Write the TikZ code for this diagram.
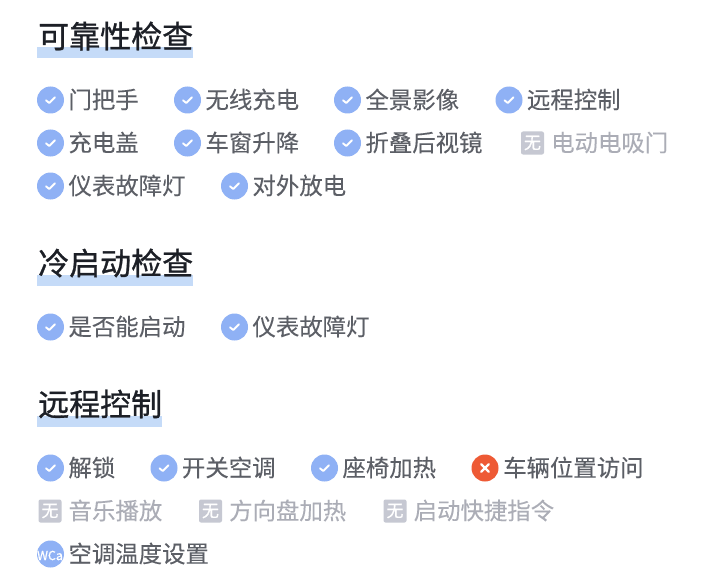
\documentclass[tikz,border=0pt]{standalone}
\usepackage{fontspec}
\setmainfont{Noto Sans CJK SC}
\newfontfamily\headfont[FakeBold=1]{Noto Sans CJK SC}
\newfontfamily\itemfont[FakeBold=0.15]{Noto Sans CJK SC}
\newfontfamily\markfont[FakeBold=0.8]{Noto Sans CJK SC}
\definecolor{ckblue}{HTML}{8FB1F5}
\definecolor{hlblue}{HTML}{C5DBF8}
\definecolor{itemgray}{HTML}{5C5F66}
\definecolor{offgray}{HTML}{ABADB6}
\definecolor{offbox}{HTML}{C6C8D2}
\definecolor{xred}{HTML}{EE5A35}
\definecolor{headink}{HTML}{1C1F26}
\tikzset{
  x=1pt,y=-1pt,
  headtext/.style={anchor=west,inner sep=0pt,font=\headfont\fontsize{31}{31}\selectfont,text=headink},
  hlbar/.style={fill=hlblue,draw=none},
  itemtext/.style={anchor=west,inner sep=0pt,font=\itemfont\fontsize{23.4}{23.4}\selectfont,text=itemgray},
  offtext/.style={itemtext,text=offgray},
  ckdot/.style={circle,fill=ckblue,draw=none,minimum size=27pt,inner sep=0pt},
  xdot/.style={circle,fill=xred,draw=none,minimum size=27pt,inner sep=0pt},
  offsq/.style={rectangle,rounded corners=2pt,fill=offbox,draw=none,minimum size=23pt,inner sep=0pt,text=white,font=\markfont\fontsize{17}{17}\selectfont},
  tick/.style={draw=white,line width=1.9pt,line cap=round,line join=round},
  marktext/.style={inner sep=0pt,text=white,font=\markfont\fontsize{12.5}{12.5}\selectfont},
}
\newcommand{\okitem}[4]{% x, y, name, text
  \node[ckdot] (#3i) at (#1,#2) {};
  \draw[tick] ([shift={(-4.5,0.3)}]#3i.center) -- ([shift={(-1.2,3)}]#3i.center) -- ([shift={(4.5,-2.7)}]#3i.center);
  \node[itemtext] (#3t) at (#1+17.8,#2-0.5) {#4};
}
\newcommand{\offitem}[4]{%
  \node[offsq] (#3i) at (#1,#2) {无};
  \node[offtext] (#3t) at (#1+18.5,#2-0.5) {#4};
}
\begin{document}
\begin{tikzpicture}
\useasboundingbox (0,0) rectangle (717,583);
\fill[white] (0,0) rectangle (717,583);
% section 1
\fill[hlbar] (37,47) rectangle (193,58);
\node[headtext] (h1) at (38,36) {可靠性检查};
\okitem{50.5}{100}{a1}{门把手}
\okitem{187.5}{100}{a2}{无线充电}
\okitem{347.5}{100}{a3}{全景影像}
\okitem{509}{100}{a4}{远程控制}
\okitem{50.5}{143}{b1}{充电盖}
\okitem{187.5}{143}{b2}{车窗升降}
\okitem{347.5}{143}{b3}{折叠后视镜}
\offitem{532.5}{143}{b4}{电动电吸门}
\okitem{50.5}{186}{c1}{仪表故障灯}
\okitem{234.5}{186}{c2}{对外放电}
% section 2
\fill[hlbar] (37,275) rectangle (193,286);
\node[headtext] (h2) at (38,263) {冷启动检查};
\okitem{50.5}{327}{d1}{是否能启动}
\okitem{234.5}{327}{d2}{仪表故障灯}
% section 3
\fill[hlbar] (37,416) rectangle (162,427);
\node[headtext] (h3) at (38,404) {远程控制};
\okitem{50.5}{468}{e1}{解锁}
\okitem{164}{468}{e2}{开关空调}
\okitem{324.5}{468}{e3}{座椅加热}
\node[xdot] (e4i) at (485,468) {};
\draw[tick,line width=2.2pt] ([shift={(-3.8,-3.8)}]e4i.center) -- ([shift={(3.8,3.8)}]e4i.center);
\draw[tick,line width=2.2pt] ([shift={(-3.8,3.8)}]e4i.center) -- ([shift={(3.8,-3.8)}]e4i.center);
\node[itemtext] (e4t) at (503,467.5) {车辆位置访问};
\offitem{50}{511}{f1}{音乐播放}
\offitem{210.5}{511}{f2}{方向盘加热}
\offitem{395}{511}{f3}{启动快捷指令}
\node[ckdot] (g1i) at (50.5,554) {};
\node[itemtext] (g1t) at (68.3,553.5) {空调温度设置};
\node[marktext] (wm) at (50,555.5) {WCa};
\end{tikzpicture}
\end{document}
